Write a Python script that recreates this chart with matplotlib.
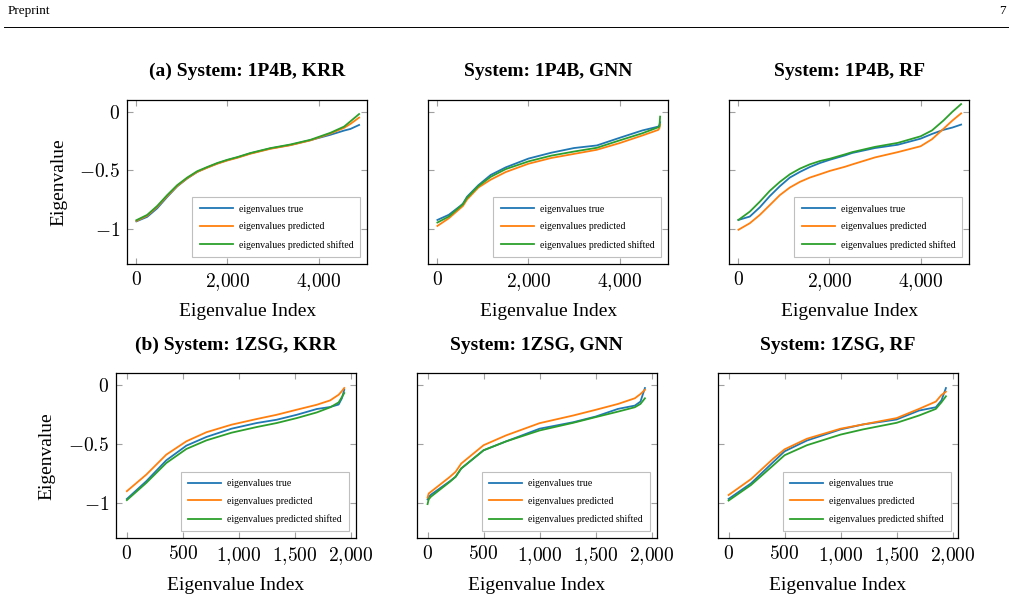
import matplotlib
matplotlib.use("Agg")
import matplotlib.pyplot as plt
from matplotlib.ticker import FixedLocator, FuncFormatter
from matplotlib.lines import Line2D

plt.rcParams.update({
    "font.family": ["Liberation Serif", "DejaVu Serif"],
    "mathtext.fontset": "cm",
    "axes.linewidth": 0.9,
})

# ---- data ----
# (a) 1P4B
x_1p4b_krr = [0, 235, 455, 675, 895, 1115, 1335, 1555, 1775, 2000, 2220, 2500, 2940, 3380, 3820, 4260, 4560, 4700, 4890]
true_1p4b_krr = [-0.936, -0.898, -0.825, -0.728, -0.638, -0.57, -0.514, -0.476, -0.442, -0.413, -0.39, -0.356, -0.314, -0.284, -0.243, -0.197, -0.161, -0.147, -0.113]
pred_1p4b_krr = [-0.932, -0.888, -0.813, -0.72, -0.634, -0.568, -0.514, -0.478, -0.444, -0.416, -0.393, -0.359, -0.317, -0.286, -0.245, -0.186, -0.138, -0.104, -0.05]
shift_1p4b_krr = [-0.926, -0.881, -0.805, -0.712, -0.627, -0.562, -0.508, -0.472, -0.438, -0.41, -0.387, -0.353, -0.311, -0.28, -0.24, -0.18, -0.127, -0.082, -0.02]

x_1p4b_gnn = [0, 250, 500, 560, 650, 900, 1170, 1500, 2000, 2500, 3000, 3500, 4000, 4500, 4850, 4875, 4890]
true_1p4b_gnn = [-0.924, -0.88, -0.805, -0.785, -0.726, -0.627, -0.54, -0.475, -0.40, -0.35, -0.31, -0.288, -0.223, -0.16, -0.127, -0.115, -0.09]
pred_1p4b_gnn = [-0.975, -0.91, -0.825, -0.805, -0.75, -0.647, -0.58, -0.515, -0.444, -0.395, -0.36, -0.325, -0.268, -0.203, -0.155, -0.14, -0.11]
shift_1p4b_gnn = [-0.946, -0.895, -0.81, -0.79, -0.735, -0.635, -0.556, -0.49, -0.424, -0.375, -0.34, -0.308, -0.245, -0.184, -0.133, -0.125, -0.042]

x_1p4b_rf = [0, 250, 470, 690, 910, 1130, 1350, 1570, 1790, 2010, 2340, 2500, 3000, 3500, 4000, 4250, 4500, 4700, 4890]
true_1p4b_rf = [-0.924, -0.895, -0.816, -0.72, -0.636, -0.562, -0.514, -0.472, -0.438, -0.41, -0.373, -0.352, -0.31, -0.282, -0.23, -0.19, -0.155, -0.135, -0.11]
pred_1p4b_rf = [-1.008, -0.952, -0.881, -0.797, -0.712, -0.647, -0.599, -0.562, -0.534, -0.505, -0.47, -0.45, -0.39, -0.345, -0.295, -0.235, -0.147, -0.075, -0.014]
shift_1p4b_rf = [-0.924, -0.853, -0.768, -0.675, -0.599, -0.534, -0.486, -0.449, -0.421, -0.401, -0.364, -0.345, -0.30, -0.266, -0.21, -0.16, -0.076, 0.0, 0.065]

# (b) 1ZSG
x_1zsg_krr = [0, 173, 352, 531, 710, 934, 1158, 1337, 1516, 1695, 1814, 1890, 1920, 1940]
true_1zsg_krr = [-0.966, -0.816, -0.638, -0.514, -0.44, -0.37, -0.322, -0.294, -0.252, -0.203, -0.186, -0.165, -0.11, -0.04]
pred_1zsg_krr = [-0.90, -0.76, -0.59, -0.477, -0.40, -0.336, -0.288, -0.252, -0.209, -0.167, -0.13, -0.082, -0.05, -0.025]
shift_1zsg_krr = [-0.976, -0.83, -0.661, -0.542, -0.469, -0.404, -0.356, -0.322, -0.28, -0.232, -0.189, -0.147, -0.10, -0.068]

x_1zsg_gnn = [0, 10, 30, 200, 250, 300, 500, 700, 1000, 1300, 1500, 1700, 1850, 1900, 1940]
true_1zsg_gnn = [-0.97, -0.95, -0.93, -0.815, -0.778, -0.708, -0.553, -0.478, -0.37, -0.315, -0.267, -0.202, -0.174, -0.14, -0.025]
pred_1zsg_gnn = [-0.955, -0.92, -0.905, -0.778, -0.736, -0.666, -0.51, -0.427, -0.323, -0.258, -0.21, -0.16, -0.112, -0.076, -0.04]
shift_1zsg_gnn = [-1.01, -0.97, -0.947, -0.82, -0.778, -0.708, -0.553, -0.478, -0.385, -0.32, -0.272, -0.225, -0.188, -0.16, -0.112]

x_1zsg_rf = [0, 200, 400, 500, 700, 1000, 1200, 1500, 1700, 1850, 1900, 1940]
true_1zsg_rf = [-0.966, -0.834, -0.652, -0.562, -0.47, -0.376, -0.334, -0.292, -0.216, -0.188, -0.13, -0.025]
pred_1zsg_rf = [-0.933, -0.798, -0.623, -0.545, -0.455, -0.37, -0.334, -0.28, -0.202, -0.14, -0.084, -0.056]
shift_1zsg_rf = [-0.98, -0.848, -0.68, -0.595, -0.51, -0.42, -0.376, -0.32, -0.258, -0.202, -0.146, -0.095]

titles_top = ["(a) System: 1P4B, KRR", "System: 1P4B, GNN", "System: 1P4B, RF"]
titles_bot = ["(b) System: 1ZSG, KRR", "System: 1ZSG, GNN", "System: 1ZSG, RF"]
series_labels = ["eigenvalues true", "eigenvalues predicted", "eigenvalues predicted shifted"]
colors = ["#1f77b4", "#ff7f0e", "#2ca02c"]

panels_top = [
    (x_1p4b_krr, true_1p4b_krr, pred_1p4b_krr, shift_1p4b_krr),
    (x_1p4b_gnn, true_1p4b_gnn, pred_1p4b_gnn, shift_1p4b_gnn),
    (x_1p4b_rf, true_1p4b_rf, pred_1p4b_rf, shift_1p4b_rf),
]
panels_bot = [
    (x_1zsg_krr, true_1zsg_krr, pred_1zsg_krr, shift_1zsg_krr),
    (x_1zsg_gnn, true_1zsg_gnn, pred_1zsg_gnn, shift_1zsg_gnn),
    (x_1zsg_rf, true_1zsg_rf, pred_1zsg_rf, shift_1zsg_rf),
]

fig = plt.figure(figsize=(10.11, 6.0), dpi=100)

W = 1011.0
H = 600.0
lefts_top = [127.3, 428.3, 729.3]
lefts_bot = [116.0, 416.7, 717.7]


def fmt_x(v, p):
    return r"$%s$" % ("{:,}".format(int(round(v))).replace(",", "{,}"))


def fmt_y(v, p):
    if abs(v) < 1e-9:
        return r"$0$"
    return r"$%g$" % v


def draw(ax, data, title, xlim, xticks, first):
    x, yt, yp, ys = data
    for y, c, lab in zip((yt, yp, ys), colors, series_labels):
        ax.plot(x, y, color=c, lw=1.3, label=lab, solid_joinstyle="round")
    ax.set_xlim(*xlim)
    ax.set_ylim(-1.3, 0.1)
    ax.xaxis.set_major_locator(FixedLocator(xticks))
    ax.yaxis.set_major_locator(FixedLocator([-1, -0.5, 0]))
    ax.xaxis.set_major_formatter(FuncFormatter(fmt_x))
    ax.yaxis.set_major_formatter(FuncFormatter(fmt_y))
    ax.tick_params(direction="in", top=True, right=True, length=4, width=0.8,
                   color="#a0a0a0", labelsize=14, pad=5)
    if not first:
        ax.tick_params(labelleft=False)
    else:
        ax.set_ylabel("Eigenvalue", fontsize=14, labelpad=9)
    ax.set_xlabel("Eigenvalue Index", fontsize=14, labelpad=7)
    ax.set_title(title, fontsize=14, fontweight="bold", pad=17)
    leg = ax.legend(loc="lower right", fontsize=7, frameon=True, fancybox=False,
                    edgecolor="#bfbfbf", framealpha=1, handlelength=3.4,
                    handletextpad=0.6, labelspacing=0.9, borderpad=0.75,
                    borderaxespad=0.7)
    leg.get_frame().set_linewidth(0.8)


for i in range(3):
    ax = fig.add_axes([lefts_top[i] / W, 1 - 264 / H, 240 / W, 164 / H])
    draw(ax, panels_top[i], titles_top[i], (-200, 5070), [0, 2000, 4000], i == 0)
for i in range(3):
    ax = fig.add_axes([lefts_bot[i] / W, 1 - 538.3 / H, 240 / W, 165 / H])
    draw(ax, panels_bot[i], titles_bot[i], (-97, 2045), [0, 500, 1000, 1500, 2000], i == 0)

# page header
fig.text(8 / W, 1 - 11 / H, "Preprint", fontsize=9.5, va="center", ha="left")
fig.text(1006 / W, 1 - 11 / H, "7", fontsize=9.5, va="center", ha="right")
fig.add_artist(Line2D([4 / W, 1008 / W], [1 - 26.5 / H] * 2, color="black", lw=0.7))

fig.savefig("out.png", dpi=100)
